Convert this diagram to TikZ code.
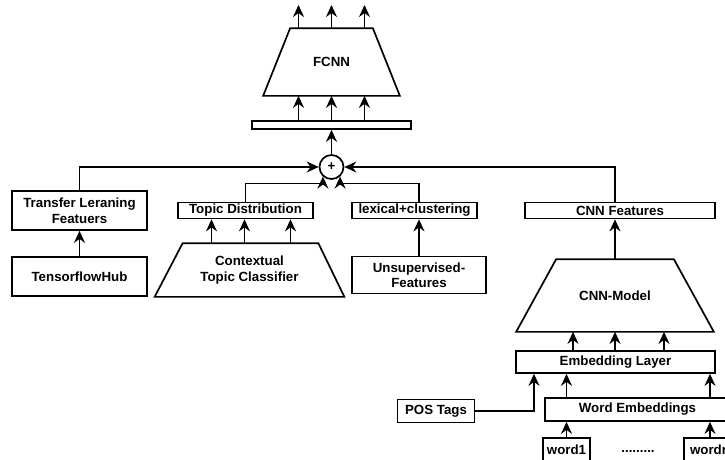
\documentclass[tikz,border=0pt]{standalone}
\usepackage{fontspec}
\setmainfont{Liberation Sans}
\usetikzlibrary{arrows.meta}
\tikzset{
  box/.style={draw,line width=1.7pt,inner sep=0pt,align=center,font=\fontsize{13.3}{15.5}\selectfont\bfseries},
  trap/.style={box,draw=none},
  arr/.style={line width=1.7pt,-{Stealth[length=12pt,width=11pt,inset=4pt]}},
  ln/.style={line width=1.7pt,line join=miter}
}
\begin{document}
\begin{tikzpicture}[x=1pt,y=-1pt]
    \useasboundingbox (0,0) rectangle (725,459);
    \clip (0,0) rectangle (725,459);

    \node[trap,minimum width=135,minimum height=66] (fcnn) at (331.5,62) {FCNN};
    \draw[ln] ([xshift=27]fcnn.north west) -- ([xshift=-27]fcnn.north east) -- (fcnn.south east) -- (fcnn.south west) -- cycle;
    \node[box,minimum width=159,minimum height=8] (bar) at (331.5,125) {};
    \node[box,circle,minimum size=24] (sum) at (331.5,167) {+};
    \coordinate (top) at (331.5,5);

    \node[box,minimum width=135,minimum height=39] (transfer) at (79.5,210.5) {Transfer Leraning\\Featuers};
    \node[box,minimum width=135,minimum height=39] (tfhub) at (79.5,276.5) {TensorflowHub};

    \node[box,minimum width=135,minimum height=16] (topicdist) at (245.5,210.5) {Topic Distribution};
    \node[trap,minimum width=188,minimum height=52] (ctc) at (249.5,270) {Contextual\\Topic Classifier};
    \draw[ln] ([xshift=28]ctc.north west) -- ([xshift=-26]ctc.north east) -- (ctc.south east) -- (ctc.south west) -- cycle;

    \node[box,minimum width=125,minimum height=16] (lexical) at (414.5,210.5) {lexical+clustering};
    \node[box,minimum width=134,minimum height=37] (unsup) at (419,275) {Unsupervised-\\Features};

    \node[box,minimum width=190,minimum height=16] (cnnfeat) at (620,210.5) {CNN Features};
    \node[trap,minimum width=196,minimum height=71] (cnnmodel) at (615,295.5) {CNN-Model};
    \draw[ln] ([xshift=40]cnnmodel.north west) -- ([xshift=-40]cnnmodel.north east) -- (cnnmodel.south east) -- (cnnmodel.south west) -- cycle;
    \node[box,minimum width=199,minimum height=22] (embed) at (615.5,362) {Embedding Layer};
    \node[box,minimum width=77,minimum height=23] (pos) at (436,411) {POS Tags};
    \node[box,minimum width=185,minimum height=23] (wordemb) at (637.5,409.5) {Word Embeddings};
    \node[box,minimum width=47,minimum height=24] (word1) at (566.5,450) {word1};
    \node[box,minimum width=52,minimum height=24] (wordn) at (710,450) {wordn};
    \node[font=\fontsize{13.3}{15.5}\selectfont\bfseries] (dots) at (638,451) {.........};

    \foreach \dx in {-33,0,33} {
        \draw[arr] ([xshift=\dx]fcnn.north) -- ([xshift=\dx]fcnn.north |- top);
        \draw[arr] ([xshift=\dx]bar.north) -- ([xshift=\dx]bar.north |- fcnn.south);
    }
    \draw[arr] (sum.north) -- (bar.south);
    \draw[arr] (transfer.north) |- (sum.west);
    \draw[arr] (cnnmodel.north |- cnnfeat.north) |- (sum.east);
    \draw[arr] (topicdist.north) |- ([yshift=-7]sum.-132) -- (sum.-132);
    \draw[arr] (unsup.north |- lexical.north) |- ([yshift=-7]sum.-48) -- (sum.-48);

    \draw[arr] (tfhub.north) -- (transfer.south);
    \foreach \dx in {-38,-5,41}
        \draw[arr] ([xshift=\dx]ctc.north) -- ([xshift=\dx]ctc.north |- topicdist.south);
    \draw[arr] (unsup.north) -- (unsup.north |- lexical.south);

    \draw[arr] (cnnmodel.north) -- (cnnmodel.north |- cnnfeat.south);
    \foreach \dx in {-42,0,49}
        \draw[arr] ([xshift=\dx]cnnmodel.south |- embed.north) -- ([xshift=\dx]cnnmodel.south);
    \draw[arr] (pos.east) -| ([xshift=-81.5]embed.south);
    \draw[arr] (word1.north |- wordemb.north) -- (word1.north |- embed.south);
    \draw[arr] (wordn.north |- wordemb.north) -- (wordn.north |- embed.south);
    \draw[arr] (word1.north) -- (word1.north |- wordemb.south);
    \draw[arr] (wordn.north) -- (wordn.north |- wordemb.south);
\end{tikzpicture}
\end{document}
